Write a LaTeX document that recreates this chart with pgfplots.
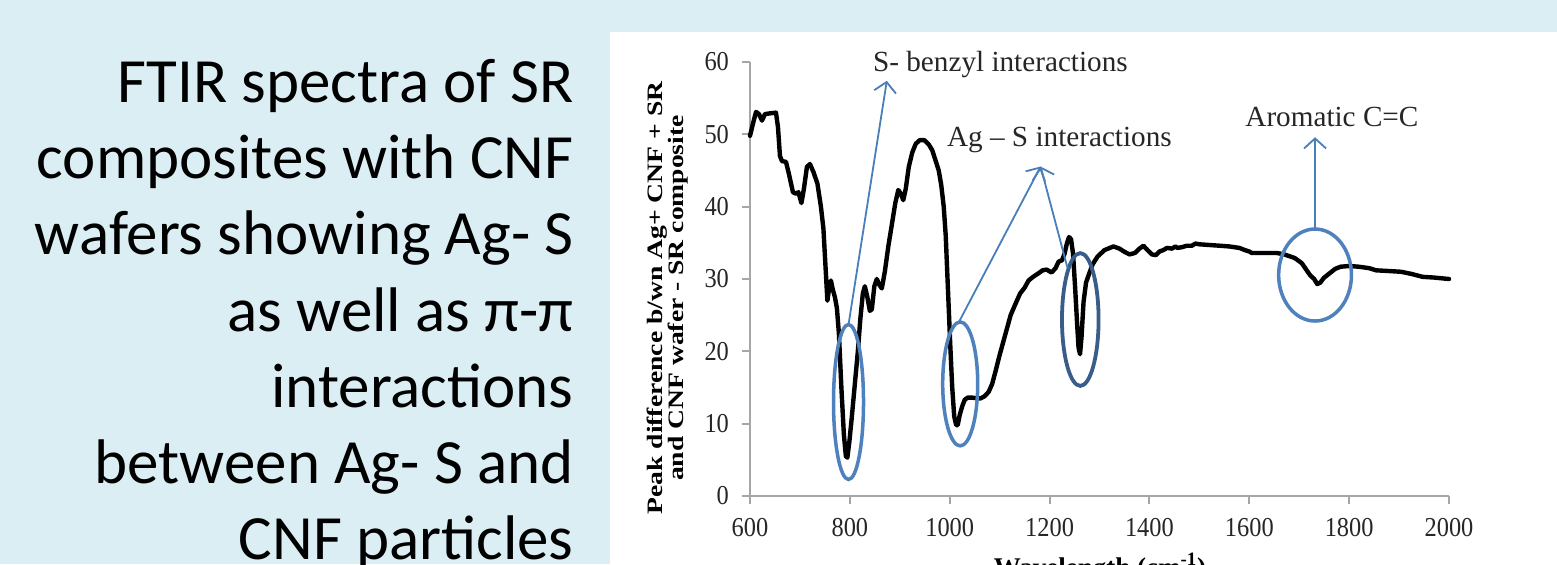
\documentclass[border=0pt]{standalone}
\usepackage{fontspec}
\setmainfont{Liberation Serif}
\newfontfamily\carlito{Carlito}
\usepackage{pgfplots}
\pgfplotsset{compat=1.18}
\usetikzlibrary{arrows.meta}
\definecolor{bgblue}{HTML}{DAEEF3}
\definecolor{ellblue}{HTML}{4F81BD}
\definecolor{elldark}{HTML}{385D8A}
\definecolor{arrblue}{HTML}{4A7EBB}
\definecolor{axgray}{HTML}{A6A6A6}
\begin{document}
\begin{tikzpicture}
\useasboundingbox (0,0) rectangle (778.5pt,282pt);
\fill[bgblue] (0,0) rectangle (778.5pt,282pt);
\fill[white] (305pt,0) rectangle (778.5pt,266pt);
\tikzset{lefttxt/.style={anchor=base east, inner sep=0pt, font=\carlito\fontsize{31.5}{38}\selectfont}}
\node[lefttxt] at (287pt,230.75pt) {FTIR spectra of SR};
\node[lefttxt] at (287pt,192.65pt) {composites with CNF};
\node[lefttxt] at (287pt,154.55pt) {wafers showing Ag- S};
\node[lefttxt] at (287pt,116.45pt) {as well as π-π};
\node[lefttxt] at (287pt,78.35pt) {interactions};
\node[lefttxt] at (287pt,40.25pt) {between Ag- S and};
\node[lefttxt, overlay] at (287pt,2.15pt) {CNF particles};
\begin{axis}[
  at={(375pt,34pt)}, anchor=south west,
  scale only axis, width=349.5pt, height=217pt,
  xmin=600, xmax=2000, ymin=0, ymax=60,
  axis x line*=bottom, axis y line*=left,
  axis line style={axgray, line width=1pt, -},
  xtick={600,800,...,2000}, ytick={0,10,...,60},
  tick style={axgray, line width=1pt},
  tick align=outside, major tick length=4pt,
  ticklabel style={font=\fontsize{12.2}{14}\selectfont, text=black!85, yscale=1.12},
  /pgf/number format/assume math mode=true,
  /pgf/number format/set thousands separator={},
  xticklabel style={yshift=-3pt},
  yticklabel style={xshift=-3pt},
  clip=false,
]
\addplot[black, line width=2.2pt, line join=round, line cap=round] coordinates {
(600,49.8) (606,51.5) (612,53.1) (618,52.8) (624,51.9) (630,52.8) (640,52.9) (652,53.0)
(656,51) (660,47.0) (664,46.3) (672,46.2) (678,44.5) (686,42.0) (692,41.8) (697,42.0)
(703,40.5) (708,42.5) (714,45.5) (720,45.9) (727,44.8) (735,43.2) (742,40.0) (747,37.0)
(751,32.0) (755,27.0) (758,28.5) (762,29.8) (766,28.5) (770,27.5) (774,26.0) (778,22.5)
(783,15.0) (788,8.5) (792,5.5) (795,5.3) (799,7.5) (804,11.0) (810,15.5) (816,20.0)
(821,24.5) (826,28.0) (830,29.0) (835,27.5) (840,25.6) (844,25.8) (849,29.0) (854,30.0)
(859,29.2) (864,28.7) (870,31.0) (877,34.5) (884,37.5) (891,40.5) (897,42.3) (902,41.8)
(907,40.9) (912,42.5) (918,45.5) (925,47.5) (932,48.7) (940,49.2) (949,49.2) (958,48.6)
(965,47.8) (972,46.3) (978,45.0) (983,43.0) (988,40.0) (992,36.0) (995,31.0) (998,26.0)
(1001,21.0) (1005,15.0) (1009,11.0) (1013,9.8) (1016,9.8) (1020,11.2) (1025,12.4) (1030,13.3)
(1036,13.6) (1045,13.6) (1055,13.5) (1062,13.5) (1070,13.8) (1078,14.4) (1085,15.5) (1092,17.3)
(1100,19.5) (1108,21.5) (1114,23.0) (1122,25.0) (1130,26.3) (1141,28.0) (1150,28.8) (1158,29.8)
(1167,30.3) (1178,30.8) (1186,31.2) (1194,31.3) (1204,30.9) (1212,31.5) (1218,32.4) (1225,32.6)
(1230,33.5) (1235,35.0) (1239,35.8) (1243,35.5) (1247,33.5) (1251,29.0) (1255,24.0) (1258,20.5)
(1261,19.6) (1264,22.0) (1268,26.8) (1273,29.5) (1278,30.5) (1286,32.0) (1296,33.1) (1310,34.0)
(1328,34.5) (1340,34.2) (1349,33.8) (1360,33.4) (1371,33.6) (1380,34.2) (1388,34.6) (1396,34.0)
(1405,33.4) (1413,33.3) (1420,33.8) (1428,34.0) (1435,34.3) (1445,34.2) (1452,34.5) (1456,34.3)
(1465,34.4) (1475,34.6) (1485,34.6) (1492,34.9) (1500,34.8) (1520,34.7) (1541,34.6) (1560,34.5)
(1580,34.3) (1591,34.0) (1600,33.8) (1605,33.6) (1630,33.6) (1655,33.6) (1670,33.4) (1691,32.9)
(1705,32.2) (1715,31.2) (1722,30.5) (1730,30.0) (1736,29.3) (1742,29.5) (1750,30.2) (1761,30.8)
(1772,31.4) (1783,31.7) (1800,31.8) (1819,31.7) (1840,31.5) (1854,31.2) (1880,31.1) (1904,31.0)
(1925,30.7) (1947,30.3) (1970,30.2) (2000,30.0)
};
\draw[ellblue, line width=1.75pt] (axis cs:797.3,13.0) ellipse [x radius=7.5pt, y radius=38.75pt];
\draw[ellblue, line width=1.75pt] (axis cs:1021,15.5) ellipse [x radius=8.75pt, y radius=31pt];
\draw[elldark, line width=1.9pt] (axis cs:1261.5,24.4) ellipse [x radius=9.15pt, y radius=33.2pt];
\draw[ellblue, line width=1.75pt] (axis cs:1731.7,30.55) ellipse [x radius=18.2pt, y radius=23pt];
\tikzset{annarr/.style={arrblue, line width=0.9pt, -{Straight Barb[length=5pt,width=11pt]}}}
\draw[annarr] (axis cs:797.3,23.7) -- (axis cs:874,57.4);
\draw[annarr] (axis cs:1018,24) -- (axis cs:1182,45.55);
\draw[annarr] (axis cs:1236,31.5) -- (axis cs:1182,45.55);
\draw[annarr] (axis cs:1731.7,36.9) -- (axis cs:1731.7,49.6);
\end{axis}
\tikzset{anntxt/.style={anchor=base west, inner sep=0pt, font=\fontsize{14.6}{16}\selectfont, text=black!85}}
\node[anntxt] at (436.35pt,246.15pt) {S- benzyl interactions};
\node[anntxt] at (473.35pt,209pt) {Ag – S interactions};
\node[anntxt] at (622.5pt,218.65pt) {Aromatic C=C};
\node[rotate=90, xscale=1.255, align=center, inner sep=0pt, font=\bfseries\fontsize{11}{10.85}\selectfont] at (333.75pt,133pt) {Peak difference b/wn Ag+ CNF + SR\\and CNF wafer - SR composite};
\node[overlay, anchor=north, inner sep=0pt, font=\bfseries\fontsize{13.5}{15}\selectfont] at (550pt,5.5pt) {Wavelength (cm\textsuperscript{-1})};
\end{tikzpicture}
\end{document}
